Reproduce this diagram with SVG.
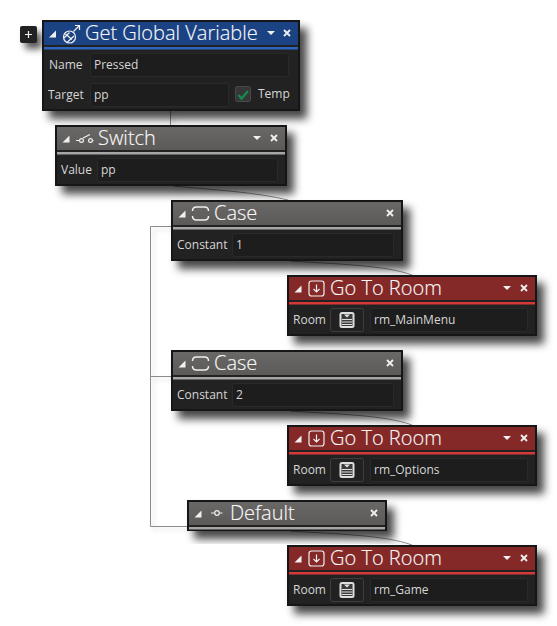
<svg xmlns="http://www.w3.org/2000/svg" width="557" height="626" viewBox="0 0 557 626">
<style>
text{font-family:"Open Sans","Noto Sans",sans-serif}
.t{font-size:20px;font-weight:300;fill:#f8f8f8;stroke:#f8f8f8;stroke-width:.15}
.l{font-size:12px;fill:#d6d6d6}
.v{font-size:12px;fill:#d6d6d6}
.o{fill:#242424;stroke:#141414;stroke-width:2;filter:url(#sh)}
.f{fill:#1d1d1d;stroke:#2a2a2a;stroke-width:1}
.btn{fill:#222;stroke:#3e3e3e;stroke-width:1}
.i{fill:none;stroke:#f0f0f0;stroke-width:1.200}
.w{fill:#f0f0f0}
.x{stroke:#f0f0f0;stroke-width:1.800;fill:none}
.c{fill:none;stroke:#8c8c8c;stroke-width:1}
.h{fill:url(#g)}
.r{fill:#842828}
.b{fill:#1b4384}
</style>
<defs>
<linearGradient id="g" x1="0" y1="0" x2="0" y2="1"><stop offset="0" stop-color="#6a6866"/><stop offset="1" stop-color="#5c5a58"/></linearGradient>
<filter id="sh" x="-10%" y="-15%" width="125%" height="160%"><feDropShadow dx="7" dy="8" stdDeviation="4" flood-color="#000" flood-opacity="0.72"/></filter>
<filter id="sh2" x="-60%" y="-60%" width="280%" height="280%"><feDropShadow dx="5" dy="6" stdDeviation="3.500" flood-color="#000" flood-opacity="0.65"/></filter>
<filter id="sh3" x="-5%" y="-5%" width="110%" height="110%"><feDropShadow dx="3" dy="3" stdDeviation="2" flood-color="#000" flood-opacity="0.18"/></filter>
<g id="room-ic"><rect x="-7.500" y="-8" width="15" height="16" rx="2.500" fill="#dedede"/><rect x="-5.500" y="-6" width="11" height="12" fill="#3a3a3a"/><path d="M-3-5.500H3L0-2.500Z" fill="#e6e6e6"/><path d="M-5-.5H5M-5 2H5M-5 4.500H5" stroke="#dedede" stroke-width="1" fill="none"/></g>
<g id="go-ic"><rect x="-7.500" y="-7.500" width="15" height="15" rx="2.500" class="i"/><path d="M0-4V3.500M-3 .5L0 3.500L3 .5" class="i"/></g>
<g id="case-ic"><path d="M-8-2.500Q-8-6.500-4-6.500H4Q8-6.500 8-2.500M-8 2.500Q-8 6.500-4 6.500H4Q8 6.500 8 2.500" class="i" style="stroke-width:1.500"/></g>
<g id="tri"><path d="M-3.500 3.500L3.500 3.500L3.500-3.500Z" class="w"/></g>
<g id="drop"><path d="M-4-2H4L0 2Z" class="w"/></g>
<g id="close"><path d="M-3-3L3 3M3-3L-3 3" class="x"/></g>
</defs>

<g id="connectors" filter="url(#sh3)">
<path class="c" d="M170.500 111V125"/>
<path class="c" d="M173 186C215 190 255 192 288 200"/>
<path class="c" d="M290 261C335 264 385 265 412 275"/>
<path class="c" d="M290 411C335 414 385 415 412 425"/>
<path class="c" d="M290 531C335 534 385 535 412 545"/>
<path class="c" d="M171 226.500H150.500V526.500H187M150.500 376.500H171"/>
</g>

<g id="add-button"><rect x="20" y="26" width="17" height="17" rx="2" fill="#222" filter="url(#sh2)"/><path d="M25 34.500H32M28.500 31V38" stroke="#f0f0f0" stroke-width="1.200"/></g>

<g id="node-get-global">
<rect class="o" x="43" y="21" width="256" height="89"/>
<rect class="b" x="44" y="22" width="254" height="23"/>
<rect x="44" y="47" width="254" height="2.500" fill="#2c66c0"/>
<use href="#tri" x="52.500" y="34"/>
<g><circle cx="69.500" cy="37" r="6" class="i"/><path d="M65.500 34L72 39.500M64 38L69.500 32.500M67 42.500L74 36M73.500 31.500L79 26M75 25.500H79.500V30" class="i"/></g>
<text class="t" x="85" y="40">Get Global Variable</text>
<use href="#drop" x="271" y="33"/><use href="#close" x="287" y="33"/>
<text class="l" x="49" y="69">Name</text>
<rect class="f" x="90.500" y="53.500" width="198" height="23" rx="2"/>
<text class="v" x="94" y="69">Pressed</text>
<text class="l" x="48" y="99">Target</text>
<rect class="f" x="90.500" y="83.500" width="138" height="23" rx="2"/>
<text class="v" x="94" y="99">pp</text>
<rect x="235.500" y="86.500" width="15" height="15" rx="2" fill="#363636" stroke="#4a4a4a"/>
<path d="M238.500 95L241.500 98.500L248 91" fill="none" stroke="#12894f" stroke-width="2.500"/>
<text class="l" x="258" y="98">Temp</text>
</g>

<g id="node-switch">
<rect class="o" x="56" y="126" width="230" height="59"/>
<rect class="h" x="57" y="127" width="228" height="23"/>
<rect x="57" y="152" width="228" height="2.500" fill="#a6a6a6"/>
<use href="#tri" x="66" y="139"/>
<path d="M76 140.500H79.500M83 138L90 134.500M92.500 140.500H93.500" class="i"/><circle cx="81.500" cy="140.500" r="1.900" class="i"/><circle cx="90.500" cy="140.500" r="1.900" class="i"/>
<text class="t" x="98" y="145">Switch</text>
<use href="#drop" x="257" y="138"/><use href="#close" x="274" y="138"/>
<text class="l" x="61" y="174">Value</text>
<rect class="f" x="97.500" y="158.500" width="180" height="23" rx="2"/>
<text class="v" x="101" y="174">pp</text>
</g>

<g id="node-case-1">
<rect class="o" x="172" y="201" width="230" height="59"/>
<rect class="h" x="173" y="202" width="228" height="23"/>
<rect x="173" y="227" width="228" height="2.500" fill="#a6a6a6"/>
<use href="#tri" x="182" y="214"/><use href="#case-ic" x="200.500" y="213.500"/>
<text class="t" x="214" y="220">Case</text><use href="#close" x="390" y="213"/>
<text class="l" x="177" y="249">Constant</text>
<rect class="f" x="232.500" y="233.500" width="161" height="23" rx="2"/>
<text class="v" x="236" y="249">1</text>
</g>

<g id="node-goto-1">
<rect class="o" x="288" y="276" width="248" height="59"/>
<rect class="r" x="289" y="277" width="246" height="23"/>
<rect x="289" y="302" width="246" height="2.500" fill="#d63838"/>
<use href="#tri" x="298" y="289"/><use href="#go-ic" x="316.500" y="288.500"/>
<text class="t" x="330" y="295">Go To Room</text>
<use href="#drop" x="507" y="288"/><use href="#close" x="524" y="288"/>
<text class="l" x="293" y="324">Room</text>
<rect class="btn" x="330.500" y="308.500" width="33" height="23" rx="2"/><use href="#room-ic" x="347" y="320"/>
<rect class="f" x="370.500" y="308.500" width="157" height="23" rx="2"/>
<text class="v" x="374" y="324">rm_MainMenu</text>
</g>

<g id="node-case-2">
<rect class="o" x="172" y="351" width="230" height="59"/>
<rect class="h" x="173" y="352" width="228" height="23"/>
<rect x="173" y="377" width="228" height="2.500" fill="#a6a6a6"/>
<use href="#tri" x="182" y="364"/><use href="#case-ic" x="200.500" y="363.500"/>
<text class="t" x="214" y="370">Case</text><use href="#close" x="390" y="363"/>
<text class="l" x="177" y="399">Constant</text>
<rect class="f" x="232.500" y="383.500" width="161" height="23" rx="2"/>
<text class="v" x="236" y="399">2</text>
</g>

<g id="node-goto-2">
<rect class="o" x="288" y="426" width="248" height="59"/>
<rect class="r" x="289" y="427" width="246" height="23"/>
<rect x="289" y="452" width="246" height="2.500" fill="#d63838"/>
<use href="#tri" x="298" y="439"/><use href="#go-ic" x="316.500" y="438.500"/>
<text class="t" x="330" y="445">Go To Room</text>
<use href="#drop" x="507" y="438"/><use href="#close" x="524" y="438"/>
<text class="l" x="293" y="474">Room</text>
<rect class="btn" x="330.500" y="458.500" width="33" height="23" rx="2"/><use href="#room-ic" x="347" y="470"/>
<rect class="f" x="370.500" y="458.500" width="157" height="23" rx="2"/>
<text class="v" x="374" y="474">rm_Options</text>
</g>

<g id="node-default">
<rect class="o" x="188" y="501" width="198" height="29"/>
<rect class="h" x="189" y="502" width="196" height="23"/>
<rect x="189" y="527" width="196" height="2.500" fill="#a6a6a6"/>
<use href="#tri" x="198" y="514"/>
<circle cx="217" cy="513" r="2.300" class="i"/><path d="M211 513H214.500M219.500 513H222.500" class="i"/>
<text class="t" x="230" y="520">Default</text><use href="#close" x="374" y="513"/>
</g>

<g id="node-goto-3">
<rect class="o" x="288" y="546" width="248" height="59"/>
<rect class="r" x="289" y="547" width="246" height="23"/>
<rect x="289" y="572" width="246" height="2.500" fill="#d63838"/>
<use href="#tri" x="298" y="559"/><use href="#go-ic" x="316.500" y="558.500"/>
<text class="t" x="330" y="565">Go To Room</text>
<use href="#drop" x="507" y="558"/><use href="#close" x="524" y="558"/>
<text class="l" x="293" y="594">Room</text>
<rect class="btn" x="330.500" y="578.500" width="33" height="23" rx="2"/><use href="#room-ic" x="347" y="590"/>
<rect class="f" x="370.500" y="578.500" width="157" height="23" rx="2"/>
<text class="v" x="374" y="594">rm_Game</text>
</g>
</svg>
